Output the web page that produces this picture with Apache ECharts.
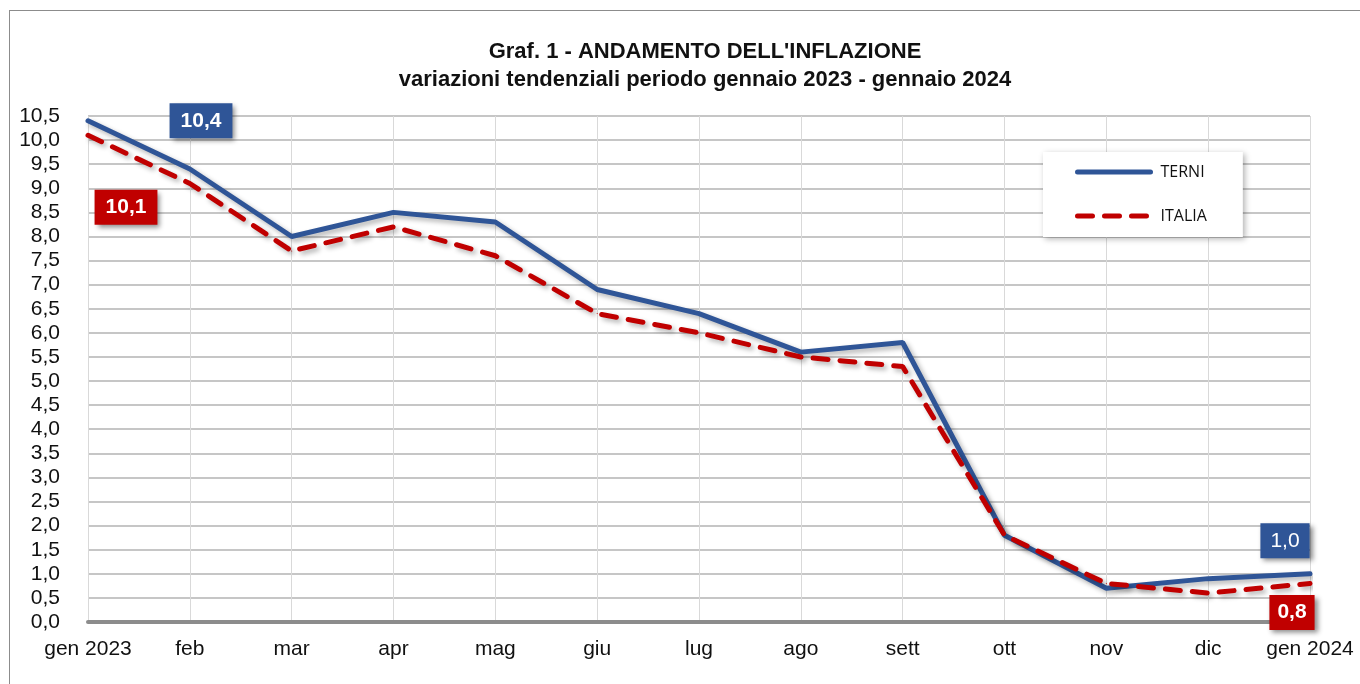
<!DOCTYPE html>
<html>
<head>
<meta charset="utf-8">
<script src="https://cdn.jsdelivr.net/npm/echarts@6/dist/echarts.min.js"></script>
<style>
  body { margin: 0; background: #fff; }
  #frame { position: absolute; left: 9px; top: 10px; width: 1400px; height: 700px; border: 1px solid #8c8c8c; }
  #main { position: absolute; left: 0; top: 0; width: 1360px; height: 684px; }
</style>
</head>
<body>
<div id="frame"></div>
<div id="main"></div>
<script>
// mesi
const months = ["gen 2023", "feb", "mar", "apr", "mag", "giu", "lug", "ago", "sett", "ott", "nov", "dic", "gen 2024"];
// variazioni tendenziali
const terni = [10.4, 9.4, 8.0, 8.5, 8.3, 6.9, 6.4, 5.6, 5.8, 1.8, 0.7, 0.9, 1.0];
const italia = [10.1, 9.1, 7.7, 8.2, 7.6, 6.4, 6.0, 5.5, 5.3, 1.8, 0.8, 0.6, 0.8];

const BLU = "#2F5597";
const ROSSO = "#C00000";
const fmt = v => v.toFixed(1).replace(".", ",");

function boxLabel(color, offset, bold, padX) {
  return {
    show: true,
    position: "inside",
    formatter: p => fmt(p.value),
    color: "#fff",
    backgroundColor: color,
    fontFamily: "Liberation Sans, Arial",
    fontSize: 21,
    fontWeight: bold ? "bold" : "normal",
    lineHeight: 24,
    padding: [6, padX, 5, padX],
    offset: offset,
    shadowColor: "rgba(0,0,0,0.45)",
    shadowBlur: 5,
    shadowOffsetX: 3,
    shadowOffsetY: 3
  };
}

// etichette solo su primo e ultimo punto
const noLabel = { show: false };
const terniData = terni.map((v, i) => {
  if (i === 0) return { value: v, label: boxLabel(BLU, [113, 0], true, 11) };
  if (i === terni.length - 1) return { value: v, label: boxLabel(BLU, [-25, -33], false, 10) };
  return { value: v, label: noLabel };
});
const italiaData = italia.map((v, i) => {
  if (i === 0) return { value: v, label: boxLabel(ROSSO, [38, 72], true, 11) };
  if (i === italia.length - 1) return { value: v, label: boxLabel(ROSSO, [-18, 29], true, 8) };
  return { value: v, label: noLabel };
});

const chart = echarts.init(document.getElementById("main"));
chart.setOption({
  animation: false,
  title: {
    text: "Graf. 1 - ANDAMENTO DELL'INFLAZIONE\nvariazioni tendenziali periodo gennaio 2023 - gennaio 2024",
    left: 700,
    textAlign: "center",
    top: 33,
    textStyle: {
      fontFamily: "Liberation Sans, Arial",
      fontSize: 22,
      fontWeight: "bold",
      color: "#111",
      lineHeight: 28
    }
  },
  legend: {
    orient: "vertical",
    left: 1043,
    top: 152,
    padding: [12, 36, 13, 32],
    itemGap: 28,
    itemWidth: 73,
    itemHeight: 6,
    backgroundColor: "#fff",
    shadowColor: "rgba(0,0,0,0.3)",
    shadowBlur: 6,
    shadowOffsetX: 2,
    shadowOffsetY: 2,
    itemStyle: { opacity: 0 },
    lineStyle: { width: 5, cap: "round" },
    textStyle: { fontFamily: "Open Sans, Liberation Sans", fontSize: 16, color: "#111", padding: [0, 0, 0, 5] },
    data: ["TERNI", "ITALIA"]
  },
  grid: { left: 88, right: 50, top: 116, bottom: 62 },
  xAxis: {
    type: "category",
    data: months,
    boundaryGap: false,
    axisLine: { lineStyle: { color: "#8c8c8c", width: 4 } },
    axisTick: { show: false },
    axisLabel: { interval: 0, color: "#111", fontFamily: "Liberation Sans, Arial", fontSize: 21, margin: 17 },
    splitLine: { show: true, interval: 0, lineStyle: { color: "#d9d9d9", width: 1 } }
  },
  yAxis: {
    type: "value",
    min: 0,
    max: 10.5,
    interval: 0.5,
    axisLine: { show: false },
    axisTick: { show: false },
    axisLabel: { color: "#111", fontFamily: "Liberation Sans, Arial", fontSize: 21, margin: 28, formatter: v => fmt(v) },
    splitLine: { lineStyle: { color: "#b3b3b3", width: 1.5 } }
  },
  series: [
    {
      name: "TERNI",
      type: "line",
      data: terniData,
      symbol: "circle",
      symbolSize: 1,
      showSymbol: true,
      z: 3,
      lineStyle: {
        color: BLU, width: 5, cap: "round",
        shadowColor: "rgba(0,0,0,0.3)", shadowBlur: 5, shadowOffsetX: 3, shadowOffsetY: 3
      },
      itemStyle: { color: BLU }
    },
    {
      name: "ITALIA",
      type: "line",
      data: italiaData,
      symbol: "circle",
      symbolSize: 1,
      showSymbol: true,
      z: 4,
      lineStyle: {
        color: ROSSO, width: 5, type: [15, 12], cap: "round",
        shadowColor: "rgba(0,0,0,0.3)", shadowBlur: 5, shadowOffsetX: 3, shadowOffsetY: 3
      },
      itemStyle: { color: ROSSO }
    }
  ]
});
</script>
</body>
</html>
